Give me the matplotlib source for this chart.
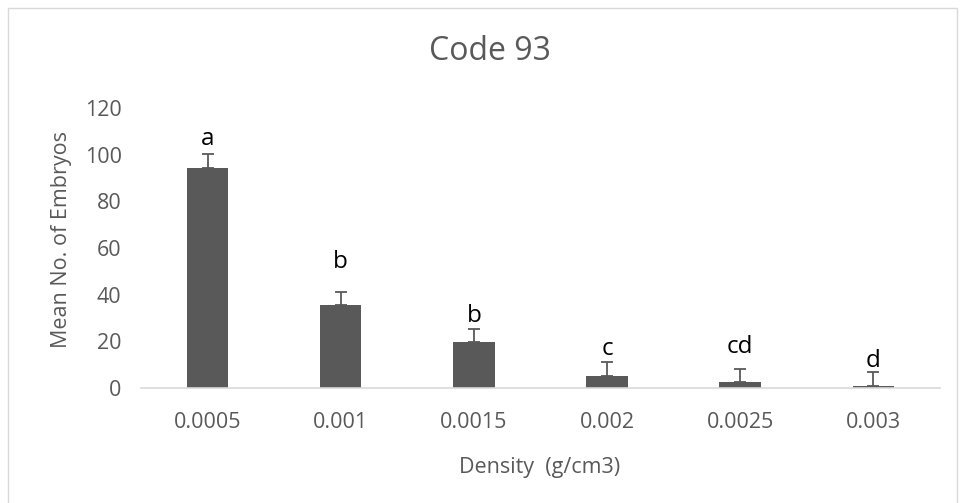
import matplotlib
matplotlib.use('Agg')
import matplotlib.pyplot as plt
from matplotlib.patches import Rectangle

plt.rcParams['font.family'] = ['Open Sans', 'DejaVu Sans']

densities = ['0.0005', '0.001', '0.0015', '0.002', '0.0025', '0.003']
mean_embryos = [94.3, 35.6, 19.6, 5.3, 2.4, 0.7]
err_upper = [6.0, 5.7, 5.7, 5.7, 5.9, 6.0]
letters = ['a', 'b', 'b', 'c', 'cd', 'd']
letter_y = [104, 51.4, 28.4, 14.1, 15, 9.1]

grey = '#595959'

fig = plt.figure(figsize=(9.6, 5.03), dpi=100)
ax = fig.add_axes([0.1469, 0.2286, 0.979 - 0.1469, 0.7853 - 0.2286])

x = list(range(len(densities)))
ax.bar(x, mean_embryos, width=0.31, color=grey, zorder=2)
ax.errorbar(x, mean_embryos, yerr=[[0] * len(x), err_upper], fmt='none',
            ecolor=grey, elinewidth=1.3, capsize=4.3, capthick=1.3, zorder=3)

for xi, lab, ly in zip(x, letters, letter_y):
    ax.text(xi, ly, lab, ha='center', va='baseline', fontsize=17.5, color='black')

ax.set_xlim(-0.5, len(x) - 0.5)
ax.set_ylim(0, 120)
ax.set_yticks(range(0, 121, 20))
ax.set_xticks(x)
ax.set_xticklabels(densities)

for s in ['top', 'right', 'left']:
    ax.spines[s].set_visible(False)
ax.spines['bottom'].set_color('#d9d9d9')
ax.spines['bottom'].set_linewidth(1.2)
ax.tick_params(axis='both', length=0, labelsize=15.5, labelcolor=grey)
ax.tick_params(axis='x', pad=17)
ax.tick_params(axis='y', pad=14)

fig.text(490 / 960, 1 - 52 / 503, 'Code 93', ha='center', va='center',
         fontsize=23, color=grey)
fig.text(540 / 960, 1 - 467 / 503, 'Density  (g/cm3)', ha='center',
         va='center', fontsize=15.5, color=grey)
fig.text(62 / 960, 1 - 240 / 503, 'Mean No. of Embryos', ha='center',
         va='center', rotation=90, fontsize=15.5, color=grey)

fig.patches.append(Rectangle((8 / 960, -0.05), 949 / 960, 1 - 8 / 503 + 0.05,
                             transform=fig.transFigure, fill=False,
                             edgecolor='#d9d9d9', linewidth=1))

fig.savefig('out.png', dpi=100)
